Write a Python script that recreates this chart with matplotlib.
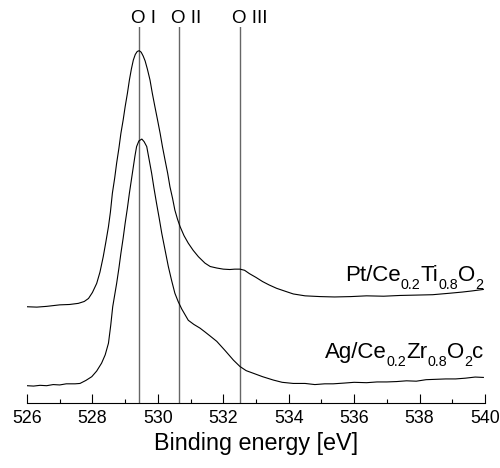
import matplotlib
matplotlib.use('Agg')
import matplotlib.pyplot as plt
import matplotlib.transforms as mtransforms

plt.rcParams['font.family'] = ['Liberation Sans', 'DejaVu Sans']

# Pt/Ce0.2Ti0.8O2 spectrum (binding energy in eV, intensity in a.u.)
pt_energy = [526.0, 526.3, 526.6, 527.0, 527.3, 527.57, 527.75, 527.88, 528.0,
             528.13, 528.23, 528.33, 528.41, 528.49, 528.55, 528.61, 528.68,
             528.74, 528.81, 528.87, 528.94, 529.0, 529.07, 529.13, 529.19,
             529.25, 529.31, 529.37, 529.43, 529.49, 529.55, 529.61, 529.68,
             529.76, 529.83, 529.91, 529.99, 530.07, 530.14, 530.22, 530.3,
             530.37, 530.45, 530.52, 530.6, 530.68, 530.8, 530.93, 531.08,
             531.24, 531.44, 531.6, 531.8, 532.0, 532.2, 532.35, 532.51,
             532.65, 532.8, 533.0, 533.2, 533.4, 533.63, 533.9, 534.14,
             534.5, 534.96, 535.4, 535.9, 536.38, 536.9, 537.4, 537.91,
             538.4, 538.93, 539.3, 539.6, 539.95]
pt_intensity = [2.56, 2.55, 2.57, 2.61, 2.62, 2.65, 2.70, 2.78, 2.94,
                3.18, 3.48, 3.89, 4.28, 4.69, 5.08, 5.58, 5.98,
                6.38, 6.78, 7.17, 7.53, 7.88, 8.24, 8.59, 8.88,
                9.12, 9.27, 9.35, 9.37, 9.33, 9.23, 9.10, 8.88,
                8.59, 8.24, 7.88, 7.53, 7.17, 6.82, 6.46, 6.11,
                5.75, 5.44, 5.13, 4.89, 4.69, 4.45, 4.25, 4.06,
                3.89, 3.72, 3.63, 3.59, 3.56, 3.55, 3.56, 3.56,
                3.53, 3.44, 3.34, 3.23, 3.14, 3.05, 2.97, 2.90,
                2.85, 2.83, 2.82, 2.83, 2.85, 2.84, 2.86, 2.87,
                2.88, 2.92, 2.95, 2.98, 3.02]

# Ag/Ce0.2Zr0.8O2c spectrum
ag_energy = [526.0, 526.2, 526.4, 526.6, 526.8, 527.0, 527.2, 527.47, 527.62,
             527.8, 527.98, 528.13, 528.28, 528.39, 528.49, 528.56, 528.62,
             528.68, 528.74, 528.81, 528.87, 528.94, 529.0, 529.07, 529.13,
             529.19, 529.25, 529.3, 529.35, 529.42, 529.51, 529.58, 529.66,
             529.73, 529.81, 529.88, 529.96, 530.04, 530.12, 530.22, 530.32,
             530.42, 530.52, 530.62, 530.73, 530.93, 531.1, 531.29, 531.44,
             531.6, 531.8, 532.05, 532.31, 532.51, 532.7, 532.92, 533.2,
             533.53, 533.8, 534.14, 534.5, 534.8, 535.1, 535.36, 535.7,
             536.0, 536.38, 536.7, 537.0, 537.3, 537.6, 537.9, 538.2,
             538.5, 538.8, 539.1, 539.4, 539.7, 539.95]
ag_intensity = [0.46, 0.45, 0.47, 0.46, 0.49, 0.48, 0.51, 0.51, 0.52,
                0.60, 0.70, 0.85, 1.06, 1.28, 1.59, 2.07, 2.56,
                2.87, 3.18, 3.59, 3.98, 4.39, 4.78, 5.19, 5.58,
                5.93, 6.28, 6.57, 6.82, 6.97, 7.02, 6.95, 6.82,
                6.49, 6.11, 5.72, 5.31, 4.92, 4.51, 4.07, 3.63,
                3.26, 2.92, 2.70, 2.50, 2.20, 2.09, 1.99, 1.89,
                1.78, 1.64, 1.40, 1.14, 0.97, 0.86, 0.79, 0.70,
                0.61, 0.55, 0.52, 0.52, 0.49, 0.51, 0.51, 0.53,
                0.55, 0.54, 0.56, 0.56, 0.57, 0.59, 0.58, 0.62,
                0.63, 0.64, 0.64, 0.66, 0.69, 0.68]

# O 1s component positions
peak_pos = [529.42, 530.65, 532.5]
peak_names = ['O I', 'O II', 'O III']

# sample labels as (text, is_subscript) pieces
pt_label = [('Pt/Ce', False), ('0.2', True), ('Ti', False), ('0.8', True),
            ('O', False), ('2', True)]
ag_label = [('Ag/Ce', False), ('0.2', True), ('Zr', False), ('0.8', True),
            ('O', False), ('2', True), ('c', False)]
label_y = [3.24, 1.20]

fig = plt.figure(figsize=(5, 4.68), dpi=100)
ax = fig.add_axes([0.054, 0.1389, 0.916, 0.8034])

for xp, name in zip(peak_pos, peak_names):
    ax.axvline(xp, color='#666666', lw=1.0, zorder=1)
    off = mtransforms.offset_copy(ax.get_xaxis_transform(), fig=fig, x=-5.5, y=0, units='points')
    ax.text(xp, 1.0, name, transform=off, ha='left', va='bottom', fontsize=13.5)

ax.plot(pt_energy, pt_intensity, color='black', lw=0.8, zorder=2)
ax.plot(ag_energy, ag_intensity, color='black', lw=0.8, zorder=2)

ax.set_xlim(526, 540)
ax.set_ylim(0, 10)
ax.set_xticks(range(526, 541, 2))
ax.set_xticks(range(527, 540, 2), minor=True)
ax.tick_params(axis='x', which='major', direction='in', length=6.5, width=0.8,
               labelsize=12.8, pad=5)
ax.tick_params(axis='x', which='minor', direction='in', length=3.2, width=0.8)
ax.set_yticks([])
for s in ['left', 'right', 'top']:
    ax.spines[s].set_visible(False)
ax.spines['bottom'].set_linewidth(0.8)
ax.set_xlabel('Binding energy [eV]', fontsize=16.8, labelpad=4)

# draw labels right to left, subscripts smaller and lowered
renderer = fig.canvas.get_renderer()
for pieces, ly in zip([pt_label, ag_label], label_y):
    x_disp, y_disp = ax.transData.transform((539.95, ly))
    for txt, sub in reversed(pieces):
        size = 10.3 if sub else 16
        dy = -8 if sub else 0
        t = fig.text(x_disp, y_disp + dy, txt, transform=mtransforms.IdentityTransform(),
                     ha='right', va='baseline', fontsize=size)
        w = t.get_window_extent(renderer).width
        x_disp -= w

fig.savefig('out.png', dpi=100)
